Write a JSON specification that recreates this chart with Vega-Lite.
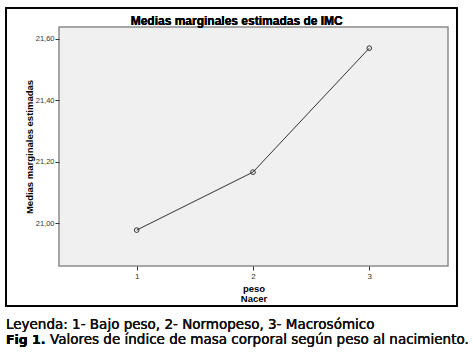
{
  "$schema": "https://vega.github.io/schema/vega-lite/v6.json",
  "autosize": "none",
  "width": 389,
  "height": 239,
  "padding": {"left": 59, "top": 27, "right": 25, "bottom": 87},
  "background": "white",
  "config": {
    "view": {"fill": "#f0f0f0", "stroke": "#8c8c8c", "strokeWidth": 1.5}
  },
  "data": {
    "values": [
      {"peso": 1, "media": 20.977},
      {"peso": 2, "media": 21.166},
      {"peso": 3, "media": 21.57}
    ]
  },
  "layer": [
    {
      "mark": {"type": "rect", "fill": null, "stroke": "#000000", "strokeWidth": 1.5, "clip": false},
      "encoding": {
        "x": {"datum": -0.124, "type": "quantitative"},
        "x2": {"datum": 3.754},
        "y": {"datum": 21.701, "type": "quantitative"},
        "y2": {"datum": 20.73}
      }
    },
    {
      "mark": {"type": "line", "color": "#333333", "strokeWidth": 1},
      "encoding": {
        "x": {
          "field": "peso", "type": "quantitative",
          "scale": {"domain": [0.332, 3.677], "nice": false, "zero": false},
          "axis": {
            "values": [1, 2, 3], "format": "d", "grid": false, "domain": false,
            "tickColor": "#333333", "tickSize": 4, "labelFont": "Liberation Sans", "labelFontSize": 8,
            "labelColor": "#333333", "labelPadding": 2,
            "title": ["peso", "Nacer"], "titleFont": "Liberation Sans", "titleFontSize": 9.5,
            "titleFontWeight": "bold", "titleColor": "#000000", "titlePadding": 3, "titleLineHeight": 10
          }
        },
        "y": {
          "field": "media", "type": "quantitative",
          "scale": {"domain": [20.86, 21.639], "nice": false, "zero": false},
          "axis": {
            "values": [21.0, 21.2, 21.4, 21.6],
            "labelExpr": "replace(format(datum.value, '.2f'), '.', ',')",
            "grid": false, "domain": false,
            "tickColor": "#333333", "tickSize": 4, "labelFont": "Liberation Sans", "labelFontSize": 7.5,
            "labelColor": "#333333", "labelPadding": 1,
            "title": "Medias marginales estimadas", "titleFont": "Liberation Sans", "titleFontSize": 9.5,
            "titleFontWeight": "bold", "titleColor": "#000000", "titlePadding": 1
          }
        }
      }
    },
    {
      "mark": {"type": "point", "filled": false, "size": 22, "stroke": "#333333", "strokeWidth": 1, "opacity": 1},
      "encoding": {
        "x": {"field": "peso", "type": "quantitative"},
        "y": {"field": "media", "type": "quantitative"}
      }
    },
    {
      "mark": {"type": "text", "text": "Medias marginales estimadas de IMC", "font": "Liberation Sans", "fontSize": 12, "fontWeight": "bold", "align": "center", "baseline": "alphabetic", "color": "#000000", "clip": false},
      "encoding": {
        "x": {"datum": 1.86, "type": "quantitative"},
        "y": {"datum": 21.6465, "type": "quantitative"}
      }
    },
    {
      "mark": {"type": "text", "text": "Leyenda: 1- Bajo peso, 2- Normopeso, 3- Macrosómico", "font": "DejaVu Sans", "fontSize": 13.5, "align": "left", "baseline": "alphabetic", "color": "#111111", "clip": false},
      "encoding": {
        "x": {"datum": -0.124, "type": "quantitative"},
        "y": {"datum": 20.655, "type": "quantitative"}
      }
    },
    {
      "mark": {"type": "text", "text": "Fig 1.", "font": "DejaVu Sans", "fontSize": 12.5, "fontWeight": "bold", "align": "left", "baseline": "alphabetic", "color": "#000000", "clip": false},
      "encoding": {
        "x": {"datum": -0.124, "type": "quantitative"},
        "y": {"datum": 20.6057, "type": "quantitative"}
      }
    },
    {
      "mark": {"type": "text", "text": "Valores de índice de masa corporal según peso al nacimiento.", "font": "DejaVu Sans", "fontSize": 13.5, "align": "left", "baseline": "alphabetic", "color": "#111111", "clip": false},
      "encoding": {
        "x": {"datum": 0.2546, "type": "quantitative"},
        "y": {"datum": 20.6057, "type": "quantitative"}
      }
    }
  ]
}
